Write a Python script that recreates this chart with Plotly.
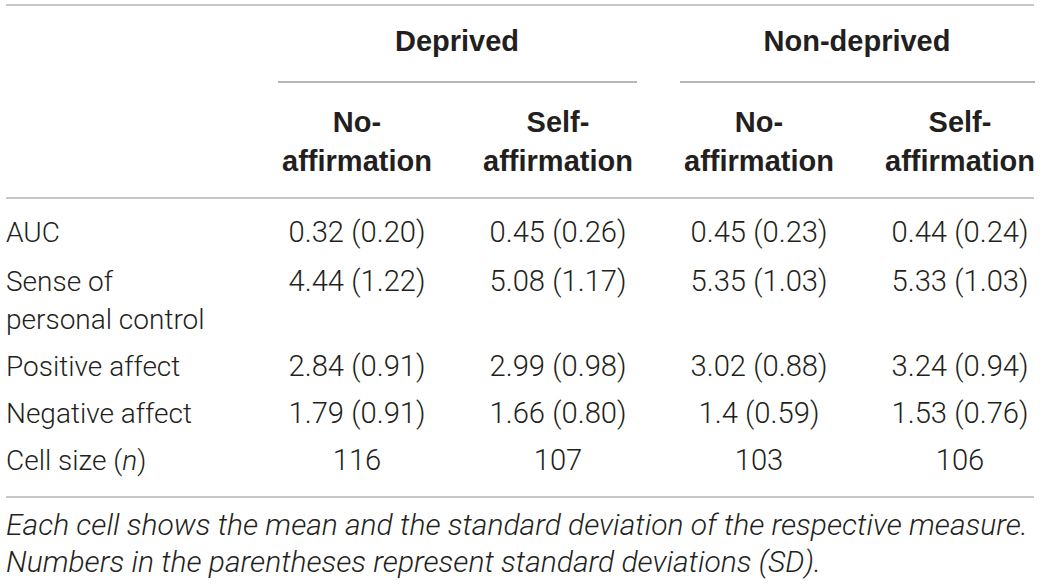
import plotly.graph_objects as go

# table content
groups = ["Deprived", "Non-deprived"]
conditions = ["No-<br>affirmation", "Self-<br>affirmation"]
measures = ["AUC", "Sense of<br>personal control", "Positive affect", "Negative affect", "Cell size (<i>n</i>)"]

dep_no_mean = ["0.32", "4.44", "2.84", "1.79"]
dep_no_sd = ["0.20", "1.22", "0.91", "0.91"]
dep_self_mean = ["0.45", "5.08", "2.99", "1.66"]
dep_self_sd = ["0.26", "1.17", "0.98", "0.80"]
non_no_mean = ["0.45", "5.35", "3.02", "1.4"]
non_no_sd = ["0.23", "1.03", "0.88", "0.59"]
non_self_mean = ["0.44", "5.33", "3.24", "1.53"]
non_self_sd = ["0.24", "1.03", "0.94", "0.76"]
cell_sizes = [116, 107, 103, 106]

footnote = ["<i>Each cell shows the mean and the standard deviation of the respective measure.</i>",
            "<i>Numbers in the parentheses represent standard deviations (SD).</i>"]

# layout of the grid (pixel units, y downwards)
W, H = 1040, 584
col_x = [357, 558, 759, 960]
group_x = [457, 857]
group_span = [(278, 637), (680, 1035)]
row_y = [233, 282, 367, 414, 461]
line_h = 38
label_x = 6
dy = 2  # plotly centres on the full text box, nudge so caps sit on the row line
txt = "#231f20"
font = "Liberation Sans, Arial, Helvetica, sans-serif"
light_font = "Roboto, Liberation Sans, Arial, sans-serif"
fs_b = 29

cols = [(dep_no_mean, dep_no_sd), (dep_self_mean, dep_self_sd),
        (non_no_mean, non_no_sd), (non_self_mean, non_self_sd)]

fig = go.Figure()

# group headers
fig.add_trace(go.Scatter(x=group_x, y=[42 + dy, 42 + dy], mode="text",
                         text=["<b>%s</b>" % g for g in groups],
                         textposition="middle center",
                         textfont=dict(family=font, size=fs_b, color=txt), hoverinfo="skip"))

# condition headers, two lines each
hx, hy, ht = [], [], []
for i, cx in enumerate(col_x):
    for k, part in enumerate(conditions[i % 2].split("<br>")):
        hx.append(cx)
        hy.append(123 + k * 39 + dy)
        ht.append("<b>%s</b>" % part)
fig.add_trace(go.Scatter(x=hx, y=hy, mode="text", text=ht, textposition="middle center",
                         textfont=dict(family=font, size=fs_b, color=txt), hoverinfo="skip"))

# row labels
lx, ly, lt = [], [], []
for r, m in enumerate(measures):
    for k, part in enumerate(m.split("<br>")):
        lx.append(label_x)
        ly.append(row_y[r] + k * line_h + dy)
        lt.append(part)
fig.add_trace(go.Scatter(x=lx, y=ly, mode="text", text=lt, textposition="middle right",
                         textfont=dict(family=light_font, size=28, color=txt, weight=300),
                         hoverinfo="skip"))

# cell values
vx, vy, vt = [], [], []
for c, (means, sds) in enumerate(cols):
    for r in range(len(means)):
        vx.append(col_x[c])
        vy.append(row_y[r] + dy)
        vt.append("%s (%s)" % (means[r], sds[r]))
    vx.append(col_x[c])
    vy.append(row_y[4] + dy)
    vt.append(str(cell_sizes[c]))
fig.add_trace(go.Scatter(x=vx, y=vy, mode="text", text=vt, textposition="middle center",
                         textfont=dict(family=light_font, size=29.2, color=txt, weight=300),
                         hoverinfo="skip"))

# footnote
fig.add_trace(go.Scatter(x=[label_x, label_x], y=[525 + dy, 562 + dy], mode="text", text=footnote,
                         textposition="middle right",
                         textfont=dict(family=light_font, size=30, color=txt, weight=300),
                         hoverinfo="skip"))

# rules
light = "#b4b4b4"
dark = "#6e6e6e"
for y in [5, 198, 497]:
    fig.add_shape(type="line", x0=6, x1=1034, y0=y, y1=y, line=dict(color=light, width=1.5))
for x0, x1 in group_span:
    fig.add_shape(type="line", x0=x0, x1=x1, y0=82, y1=82, line=dict(color=dark, width=1.2))

fig.update_layout(
    width=W, height=H,
    margin=dict(l=0, r=0, t=0, b=0),
    paper_bgcolor="white", plot_bgcolor="white",
    showlegend=False,
    xaxis=dict(range=[0, W], visible=False, fixedrange=True),
    yaxis=dict(range=[H, 0], visible=False, fixedrange=True),
)

fig.write_html("out.html", config={"displayModeBar": False})

# drop the default page margin so the figure fills the window
with open("out.html", encoding="utf-8") as f:
    page = f.read()
page = page.replace("<body>", '<body style="margin:0;overflow:hidden">', 1)
with open("out.html", "w", encoding="utf-8") as f:
    f.write(page)
